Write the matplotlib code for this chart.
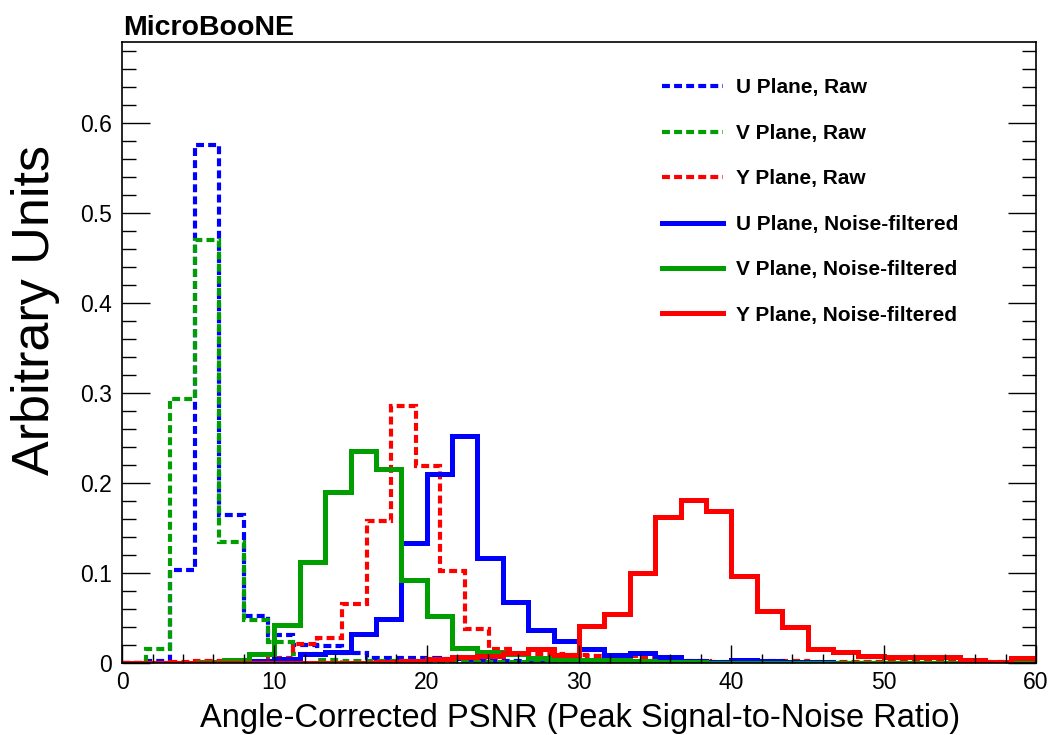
import numpy as np
import matplotlib
matplotlib.use("Agg")
import matplotlib.pyplot as plt
from matplotlib.lines import Line2D
from matplotlib.ticker import MultipleLocator, FuncFormatter

plt.rcParams['font.family'] = ['Liberation Sans', 'DejaVu Sans']

# bin edges: raw histograms use a slightly narrower binning than the filtered ones
raw_edges = np.r_[0, 1.56 + 1.61 * np.arange(37), 60]
nf_edges = np.linspace(0, 60, 37)

u_raw = [0, 0.002, 0.103, 0.575, 0.164, 0.052, 0.031, 0.020, 0.019, 0.011,
         0.005, 0.005, 0.005, 0.004, 0.003, 0.002, 0.002, 0.001, 0.001, 0.001,
         0.001, 0.001, 0.0005, 0.0005, 0.0005, 0.0005, 0.0005, 0.0005, 0.0005, 0.0005,
         0.0005, 0.0005, 0.0005, 0.0005, 0.0005, 0.0005, 0.0005, 0.0005]
v_raw = [0, 0.016, 0.293, 0.470, 0.134, 0.048, 0.023, 0.010, 0.003, 0.002,
         0.002, 0.002, 0.001, 0.001, 0.001, 0.001, 0.001, 0.0005, 0.0005, 0.0005,
         0.0005, 0.0005, 0.0005, 0.0005, 0.0005, 0.0005, 0.0005, 0.0005, 0.0005, 0.0005,
         0.0005, 0.0005, 0.0005, 0.0005, 0.0005, 0.0005, 0.0005, 0.0005]
y_raw = [0, 0, 0.001, 0.002, 0.002, 0.002, 0.006, 0.021, 0.028, 0.066,
         0.158, 0.285, 0.219, 0.102, 0.038, 0.016, 0.010, 0.010, 0.009, 0.008,
         0.008, 0.006, 0.004, 0.002, 0.001, 0.001, 0.002, 0.002, 0.001, 0.001,
         0.001, 0.001, 0.001, 0.001, 0.001, 0.001, 0.001, 0.001]

u_nf = [0, 0, 0.0005, 0.001, 0.001, 0.002, 0.0045, 0.010, 0.012, 0.032,
        0.049, 0.133, 0.210, 0.252, 0.117, 0.068, 0.037, 0.024, 0.016, 0.009,
        0.011, 0.007, 0.002, 0.001, 0.003, 0.002, 0.001, 0.001, 0.0005, 0.0005,
        0.0005, 0.0005, 0.0005, 0.0005, 0.0005, 0.0005]
v_nf = [0, 0, 0.0005, 0.001, 0.003, 0.010, 0.042, 0.112, 0.190, 0.236,
        0.216, 0.092, 0.052, 0.017, 0.012, 0.010, 0.006, 0.004, 0.003, 0.003,
        0.002, 0.001, 0.001, 0.0005, 0.0005, 0.0005, 0.0005, 0.0005, 0.0005, 0.0005,
        0.0005, 0.0005, 0.0005, 0.0005, 0.0005, 0.0005]
y_nf = [0.0005, 0.0005, 0.0005, 0.0005, 0.0005, 0.0005, 0.0005, 0.0005, 0.0005, 0.0005,
        0.001, 0.002, 0.004, 0.007, 0.008, 0.011, 0.015, 0.009, 0.041, 0.054,
        0.100, 0.162, 0.181, 0.169, 0.097, 0.058, 0.040, 0.015, 0.012, 0.008,
        0.007, 0.007, 0.007, 0.003, 0.0015, 0.005]

labels = ["U Plane, Raw", "V Plane, Raw", "Y Plane, Raw",
          "U Plane, Noise-filtered", "V Plane, Noise-filtered", "Y Plane, Noise-filtered"]

BLUE, GREEN, RED = '#0000ff', '#009e00', '#ff0000'
dash = (0, (1.9, 1.0))

fig = plt.figure(figsize=(10.53, 7.35), dpi=100)
ax = fig.add_axes([0.1159, 0.098, 0.868, 0.845])

series = [
    (u_raw, raw_edges, BLUE, dash, 3.0),
    (v_raw, raw_edges, GREEN, dash, 3.0),
    (y_raw, raw_edges, RED, dash, 3.0),
    (u_nf, nf_edges, BLUE, '-', 3.6),
    (v_nf, nf_edges, GREEN, '-', 3.6),
    (y_nf, nf_edges, RED, '-', 3.6),
]
handles = []
for (vals, edges, col, ls, lw), lab in zip(series, labels):
    ax.stairs(vals, edges, baseline=0, color=col, linestyle=ls, linewidth=lw)
    handles.append(Line2D([], [], color=col, linestyle=ls, linewidth=lw, label=lab))

ax.set_xlim(0, 60)
ax.set_ylim(0, 0.69)

ax.xaxis.set_major_locator(MultipleLocator(10))
ax.xaxis.set_minor_locator(MultipleLocator(2))
ax.yaxis.set_major_locator(MultipleLocator(0.1))
ax.yaxis.set_minor_locator(MultipleLocator(0.02))
ax.yaxis.set_major_formatter(FuncFormatter(lambda v, p: "0" if abs(v) < 1e-9 else f"{v:.1f}"))

ax.tick_params(axis='both', which='both', direction='in', width=1.0, labelsize=16.5)
ax.tick_params(axis='y', which='major', length=20, right=True, pad=7)
ax.tick_params(axis='y', which='minor', length=10, right=True)
ax.tick_params(axis='x', which='major', length=13, top=False, pad=6)
ax.tick_params(axis='x', which='minor', length=6.5, top=False)
for sp in ax.spines.values():
    sp.set_linewidth(1.2)

ax.text(0.917, -0.090, "Angle-Corrected PSNR (Peak Signal-to-Noise Ratio)",
        transform=ax.transAxes, ha='right', va='center', fontsize=23.5)
ax.text(-0.095, 0.834, "Arbitrary Units", transform=ax.transAxes,
        rotation=90, ha='center', va='top', fontsize=37.5)
fig.text(0.117, 0.952, "MicroBooNE", fontsize=20.5, fontweight='bold', va='baseline')

leg = ax.legend(handles=handles, loc='upper left', bbox_to_anchor=(0.572, 0.968),
                frameon=False, labelspacing=1.27, handlelength=2.97,
                handletextpad=0.62, borderpad=0.3, prop={'weight': 'bold', 'size': 15})

fig.savefig("out.png", dpi=100)
